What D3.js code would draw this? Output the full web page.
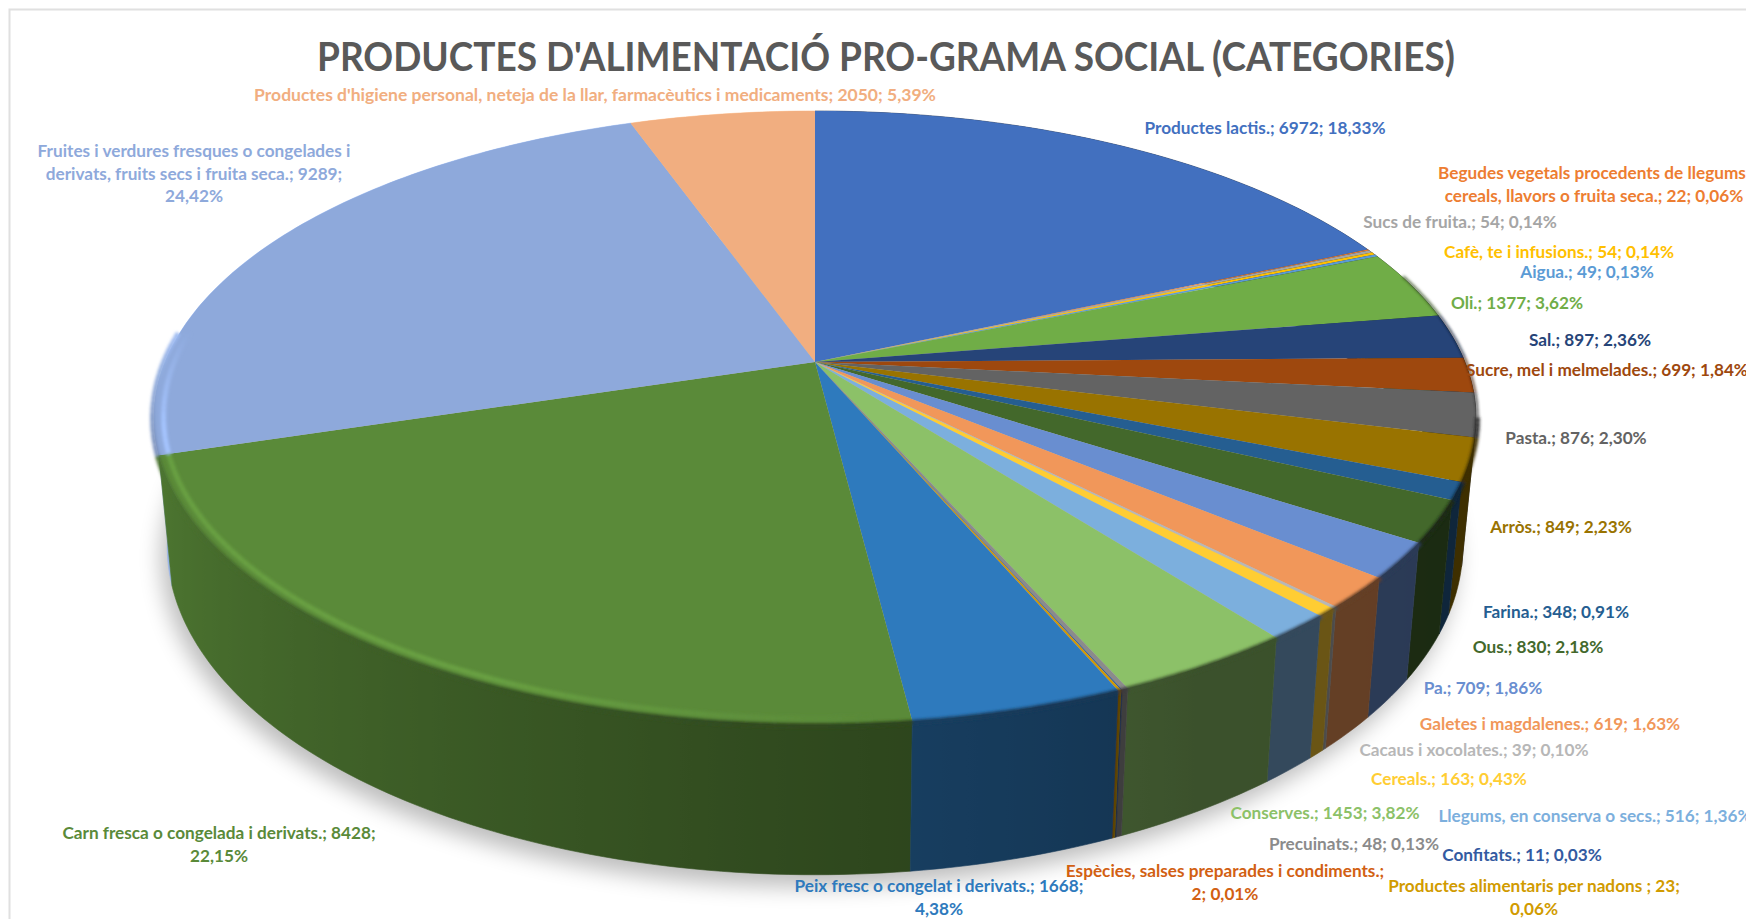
<!DOCTYPE html>
<html>
<head>
<meta charset="utf-8">
<script src="https://cdn.jsdelivr.net/npm/d3@7"></script>
<style>
    html, body {margin: 0; padding: 0; background: #fff; overflow: hidden;}
    text {font-family: Lato, "Open Sans", sans-serif; font-weight: 700;}
</style>
</head>
<body>
<div id="chart"></div>
<script>
// data, clockwise from 12 o'clock
const categories = ["Productes lactis.", "Begudes vegetals procedents de llegums, cereals, llavors o fruita seca.", "Sucs de fruita.", "Cafè, te i infusions.", "Aigua.", "Oli.", "Sal.", "Sucre, mel i melmelades.", "Pasta.", "Arròs.", "Farina.", "Ous.", "Pa.", "Galetes i magdalenes.", "Cacaus i xocolates.", "Cereals.", "Llegums, en conserva o secs.", "Conserves.", "Precuinats.", "Confitats.", "Productes alimentaris per nadons ", "Espècies, salses preparades i condiments.", "Peix fresc o congelat i derivats.", "Carn fresca o congelada i derivats.", "Fruites i verdures fresques o congelades i derivats, fruits secs i fruita seca.", "Productes d'higiene personal, neteja de la llar, farmacèutics i medicaments"];
const values = [6972, 22, 54, 54, 49, 1377, 897, 699, 876, 849, 348, 830, 709, 619, 39, 163, 516, 1453, 48, 11, 23, 2, 1668, 8428, 9289, 2050];
const percents = ["18,33%", "0,06%", "0,14%", "0,14%", "0,13%", "3,62%", "2,36%", "1,84%", "2,30%", "2,23%", "0,91%", "2,18%", "1,86%", "1,63%", "0,10%", "0,43%", "1,36%", "3,82%", "0,13%", "0,03%", "0,06%", "0,01%", "4,38%", "22,15%", "24,42%", "5,39%"];
const colors = ["#4270bf", "#ed7d31", "#a5a5a5", "#ffc000", "#5b9bd5", "#70ad47", "#264478", "#9e480e", "#636363", "#997300", "#255e91", "#43682b", "#698ed0", "#f1975a", "#b7b7b7", "#ffcd33", "#7cafdd", "#8cc168", "#8b8b8b", "#335aa1", "#d19b00", "#d26012", "#2e7abd", "#5a8a39", "#8ea9db", "#f1ae80"];

// label placement: centre x, first line y, word index where each new line begins
const labelPlaces = [
    [1265, 128, []], [1594, 173, [5]], [1460, 222, []], [1559, 252, []], [1587, 272, []],
    [1517, 303, []], [1590, 340, []], [1607, 370, []], [1576, 438, []], [1561, 527, []],
    [1556, 612, []], [1538, 647, []], [1483, 688, []], [1550, 724, []], [1474, 750, []],
    [1449, 779, []], [1595, 816, []], [1325, 813, []], [1354, 844, []], [1522, 855, []],
    [1534, 886, [6]], [1225, 871, [5]], [939, 886, [7]], [219, 833, [7]], [194, 151, [7, 14]],
    [595, 95, []]
];

const width = 1746, height = 919;

const svg = d3.select("#chart").append("svg")
    .attr("width", width)
    .attr("height", height);

const defs = svg.append("defs");
const addBlur = (id, dev) => defs.append("filter")
    .attr("id", id)
    .attr("filterUnits", "userSpaceOnUse")
    .attr("x", 0).attr("y", 0).attr("width", width).attr("height", height)
    .append("feGaussianBlur").attr("stdDeviation", dev);
addBlur("blur-shadow", 11);
addBlur("blur-rim", 1.6);

// chart frame, only the top and left sides are inside the picture
svg.append("path")
    .attr("d", `M9.5,${height}V9.5H${width}`)
    .attr("fill", "none")
    .attr("stroke", "#e0e0e0")
    .attr("stroke-width", 2);

// perspective of the disc: top face and bottom face
const topFace = {cy: 362, a: 650, b: 296.7, k: 0.182};
const bottomFace = {cy: 486, a: 637, b: 318, k: 0.182};
const cx = 815;

function project(face, angle, r) {
    let X = r * Math.sin(angle), Y = -r * Math.cos(angle);
    let d = 1 - face.k * Y;
    return [cx + face.a * X / d, face.cy + face.b * Y / d];
}

// how dark the side wall is, by angle in degrees
const shadeScale = d3.scaleLinear()
    .domain([0, 60, 90, 150, 185, 255, 275, 360])
    .range([0.5, 0.45, 0.4, 0.42, 0.55, 0.87, 1.1, 1.1]);

function shade(color, angle) {
    let c = d3.rgb(color), f = shadeScale(angle * 180 / Math.PI);
    return d3.rgb(Math.min(255, c.r * f), Math.min(255, c.g * f), Math.min(255, c.b * f)).formatHex();
}

const pie = d3.pie().sort(null).value(d => d)(values);
const line = d3.line();
const step = Math.PI / 180;

function arcAngles(d) {
    let n = Math.max(1, Math.ceil((d.endAngle - d.startAngle) / step));
    return d3.range(n + 1).map(i => d.startAngle + (d.endAngle - d.startAngle) * i / n);
}

// shadow under the pie
svg.append("path")
    .attr("d", line(d3.range(0, 361, 3).map(a => project(bottomFace, a * step, 1.0))) + "Z")
    .attr("transform", "translate(-6,12)")
    .attr("fill", "#000")
    .attr("opacity", 0.26)
    .attr("filter", "url(#blur-shadow)");

// side walls, one path per slice with a horizontal gradient, back to front
const walls = pie.map((d, i) => ({d: d, i: i, depth: -Math.cos((d.startAngle + d.endAngle) / 2)}))
    .sort((a, b) => a.depth - b.depth);

walls.forEach(w => {
    let angles = arcAngles(w.d);
    let stops = angles.map(a => ({x: project(topFace, a, 1)[0], color: shade(colors[w.i], a)}))
        .sort((a, b) => a.x - b.x);
    let x1 = stops[0].x, x2 = Math.max(stops[stops.length - 1].x, x1 + 1);
    let grad = defs.append("linearGradient")
        .attr("id", "wall-" + w.i)
        .attr("gradientUnits", "userSpaceOnUse")
        .attr("x1", x1).attr("x2", x2).attr("y1", 0).attr("y2", 0);
    stops.forEach(s => grad.append("stop")
        .attr("offset", (s.x - x1) / (x2 - x1))
        .attr("stop-color", s.color));
    let pts = angles.map(a => project(topFace, a, 1))
        .concat(angles.slice().reverse().map(a => project(bottomFace, a, 1)));
    svg.append("path")
        .attr("class", "wall")
        .attr("d", line(pts) + "Z")
        .attr("fill", "url(#wall-" + w.i + ")")
        .attr("stroke", "url(#wall-" + w.i + ")")
        .attr("stroke-width", 0.6);
});

// top face
svg.append("g").attr("class", "slices")
    .selectAll("path")
    .data(pie)
    .join("path")
    .attr("d", d => line([[cx, topFace.cy], ...arcAngles(d).map(a => project(topFace, a, 1))]) + "Z")
    .attr("fill", (d, i) => colors[i]);

// soft bevel along the rim
const highlight = d3.scaleLinear().domain([176, 205, 258, 276]).range([0, 1, 1, 0]).clamp(true);
const rim = svg.append("g").attr("filter", "url(#blur-rim)");
pie.forEach((d, i) => {
    d3.pairs(arcAngles(d)).forEach(([a0, a1]) => {
        let mid = (a0 + a1) / 2, deg = mid * 180 / Math.PI;
        if (deg < 72 || deg > 276) return;
        rim.append("path")
            .attr("d", line([project(topFace, a0, 1.002), project(topFace, a1, 1.002)]))
            .attr("fill", "none")
            .attr("stroke", shade(colors[i], mid))
            .attr("stroke-width", deg < 100 ? 2 : 5);
        if (highlight(deg) > 0) {
            rim.append("path")
                .attr("d", line([project(topFace, a0, 0.986), project(topFace, a1, 0.986)]))
                .attr("fill", "none")
                .attr("stroke", d3.interpolateRgb(colors[i], d3.color(colors[i]).brighter(0.42))(highlight(deg)))
                .attr("stroke-width", 5);
        }
    });
});

// title
svg.append("text")
    .attr("x", 886)
    .attr("y", 70.5)
    .attr("text-anchor", "middle")
    .attr("font-size", 40)
    .attr("textLength", 1138)
    .attr("lengthAdjust", "spacingAndGlyphs")
    .attr("fill", "#595959")
    .text("PRODUCTES D'ALIMENTACIÓ PRO-GRAMA SOCIAL (CATEGORIES)");

// data labels
categories.forEach((cat, i) => {
    let words = `${cat}; ${values[i]}; ${percents[i]}`.split(" ");
    let place = labelPlaces[i];
    let starts = [0, ...place[2], words.length];
    let label = svg.append("text")
        .attr("class", "label")
        .attr("text-anchor", "middle")
        .attr("font-size", i == 25 ? 17.5 : 17.2)
        .attr("fill", colors[i]);
    d3.pairs(starts).forEach(([s, e], n) => {
        label.append("tspan")
            .attr("x", place[0])
            .attr("y", place[1] + n * 22.5)
            .attr("dy", "0.35em")
            .text(words.slice(s, e).join(" "));
    });
});
</script>
</body>
</html>
